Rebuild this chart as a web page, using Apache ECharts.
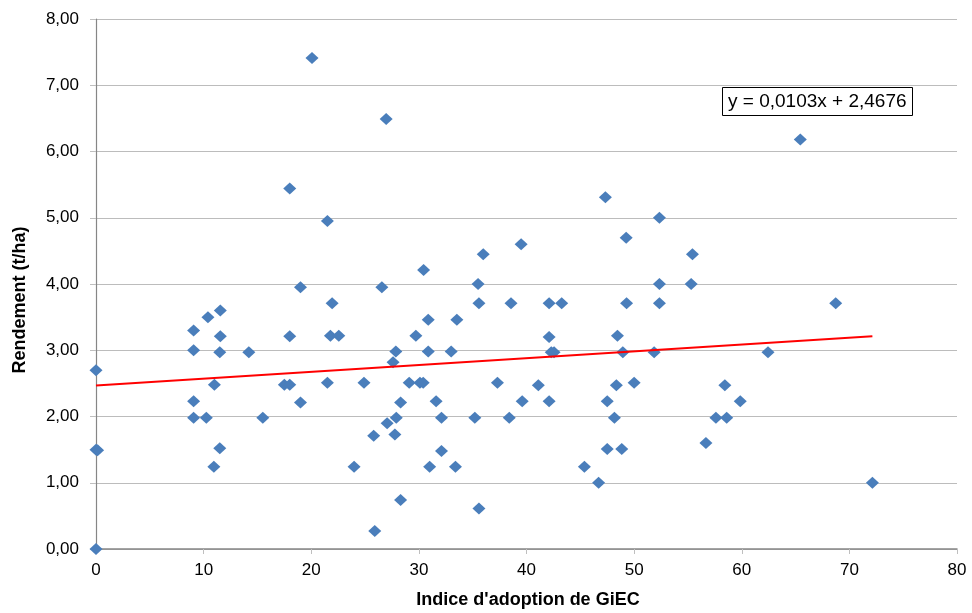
<!DOCTYPE html>
<html>
<head>
<meta charset="utf-8">
<script src="https://cdn.jsdelivr.net/npm/echarts@6/dist/echarts.min.js"></script>
<style>
html,body{margin:0;padding:0;background:#fff;}
#chart{width:972px;height:613px;}
</style>
</head>
<body>
<div id="chart"></div>
<script>
// Indice d'adoption de GiEC (x) and Rendement t/ha (y)
const xValues = [
  0, 0, 0.15, 0,
  9.07, 9.07, 9.07, 9.07, 10.25, 10.4, 11.0, 10.95, 11.5, 11.55, 11.5, 11.55,
  14.2, 15.5, 17.5, 18.0, 18.0, 18.0, 19.0, 19.0,
  20.07, 21.5, 21.94, 21.78, 22.56, 21.5, 24.9, 23.98, 25.9, 25.8, 26.56, 26.96, 27.05, 27.6, 27.86, 27.77, 27.9, 28.3, 28.3, 29.1, 29.72,
  30.1, 30.4, 30.44, 30.87, 30.87, 31.0, 31.6, 32.1, 32.1, 33.0, 33.4, 33.53, 35.2, 35.5, 35.58, 35.58, 35.98, 37.3, 38.4, 38.56, 39.5, 39.6,
  41.1, 42.1, 43.27, 42.1, 42.1, 42.3, 42.56, 45.38, 46.7, 47.33, 47.5, 47.5, 48.17, 48.35, 48.45, 48.85, 48.95, 49.26, 49.3, 50.0,
  51.86, 52.35, 52.35, 52.35, 55.42, 55.3, 56.67, 57.6, 58.43, 58.6, 59.86, 62.44, 65.44, 68.73, 72.14
];
const yValues = [
  2.70, 1.50, 1.49, 0.00,
  3.30, 3.00, 2.23, 1.98, 1.98, 3.50, 2.48, 1.24, 1.52, 3.21, 2.97, 3.60,
  2.97, 1.98, 2.48, 2.48, 3.21, 5.44, 3.95, 2.21,
  7.41, 4.95, 3.71, 3.22, 3.22, 2.51, 2.51, 1.24, 0.27, 1.71, 3.95, 6.49, 1.90, 2.82, 2.98, 1.73, 1.98, 2.21, 0.74, 2.51, 3.22,
  2.51, 2.51, 4.21, 3.46, 2.98, 1.24, 2.23, 1.98, 1.48, 2.98, 1.24, 3.46, 1.98, 4.00, 3.71, 0.61, 4.45, 2.51, 1.98, 3.71, 4.60, 2.23,
  2.47, 3.71, 3.71, 3.20, 2.23, 2.97, 2.97, 1.24, 1.00, 5.31, 2.23, 1.51, 1.98, 2.47, 3.22, 1.51, 2.97, 4.70, 3.71, 2.51,
  2.97, 5.00, 4.00, 3.71, 4.45, 4.00, 1.60, 1.98, 2.47, 1.98, 2.23, 2.97, 6.18, 3.71, 1.00
];
// Linear trend line endpoints (as drawn) and its equation label
const trendX = [0, 72.14];
const trendY = [2.4676, 3.2107];
const equationText = 'y = 0,0103x + 2,4676';
const xAxisTitle = "Indice d'adoption de GiEC";
const yAxisTitle = 'Rendement (t/ha)';

const points = xValues.map((x, i) => [x, yValues[i]]);
const trend = trendX.map((x, i) => [x, trendY[i]]);

const FONT = "'Liberation Sans', Arial, sans-serif";
const chart = echarts.init(document.getElementById('chart'), null, {renderer: 'canvas'});
chart.setOption({
  animation: false,
  backgroundColor: '#ffffff',
  textStyle: {fontFamily: FONT},
  title: {
    text: equationText,
    left: 722, top: 87,
    borderColor: '#000000', borderWidth: 1,
    padding: [4, 6],
    backgroundColor: '#ffffff',
    textStyle: {fontFamily: FONT, fontSize: 19, fontWeight: 'normal', color: '#000000', lineHeight: 21}
  },
  grid: {left: 96, right: 15, top: 19, bottom: 64, containLabel: false},
  xAxis: {
    type: 'value', min: 0, max: 80, interval: 10,
    axisLine: {show: true, onZero: false, lineStyle: {color: '#868686', width: 1.5}},
    axisTick: {show: true, length: 5, lineStyle: {color: '#bfbfbf'}},
    splitLine: {show: false},
    axisLabel: {color: '#000000', fontSize: 17, fontFamily: FONT, margin: 13}
  },
  yAxis: {
    type: 'value', min: 0, max: 8, interval: 1,
    axisLine: {show: true, onZero: false, lineStyle: {color: '#868686', width: 1.2}},
    axisTick: {show: true, length: 6, lineStyle: {color: '#bfbfbf'}},
    splitLine: {show: true, lineStyle: {color: '#bcbcbc', width: 1.2}},
    axisLabel: {color: '#000000', fontSize: 17, fontFamily: FONT, margin: 17,
      formatter: v => v.toFixed(2).replace('.', ',')}
  },
  graphic: [
    {type: 'text', x: 528, y: 600, z: 10,
     style: {text: xAxisTitle, font: 'bold 18px ' + FONT, fill: '#000', textAlign: 'center', textVerticalAlign: 'middle'}},
    {type: 'text', x: 20, y: 300, rotation: Math.PI / 2, z: 10,
     style: {text: yAxisTitle, font: 'bold 18px ' + FONT, fill: '#000', textAlign: 'center', textVerticalAlign: 'middle'}}
  ],
  series: [
    {
      type: 'scatter', name: 'Rendement', data: points,
      symbol: 'diamond', symbolSize: [13, 12],
      itemStyle: {color: '#4A7EBB', opacity: 1}, z: 2
    },
    {
      type: 'line', name: 'Tendance', data: trend,
      showSymbol: false, symbol: 'none',
      lineStyle: {color: '#FF0000', width: 2}, z: 3
    }
  ]
});
</script>
</body>
</html>
